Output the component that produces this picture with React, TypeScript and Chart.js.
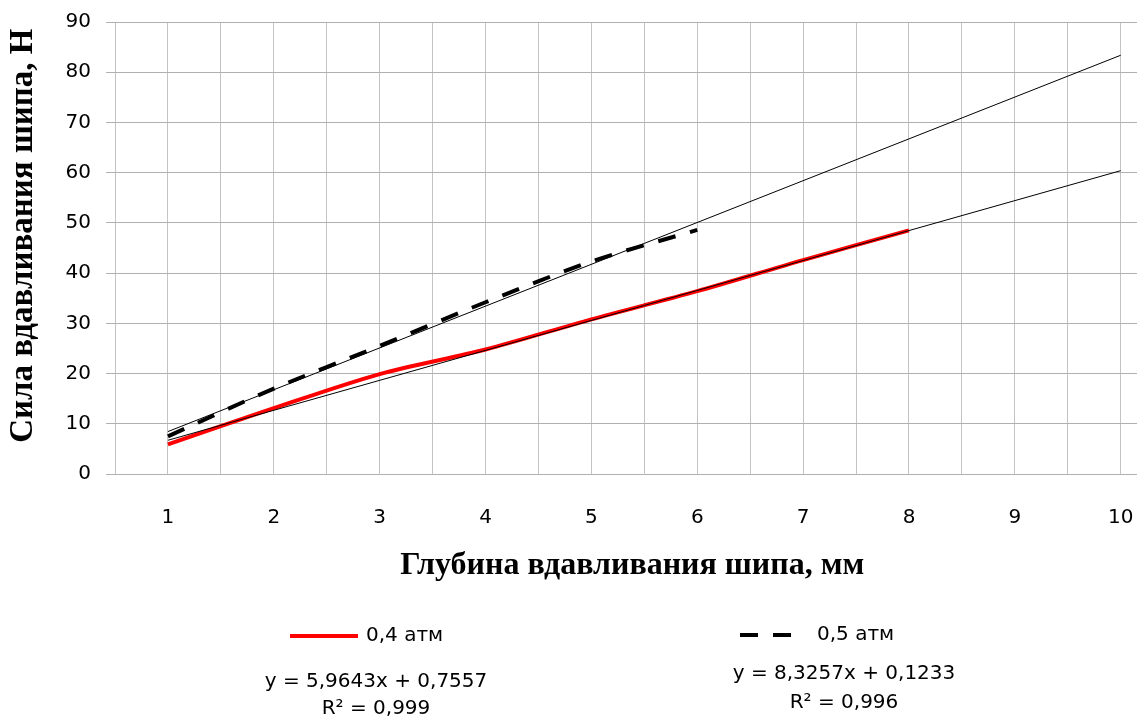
import React, { useEffect, useRef } from 'react';
import { Chart, registerables } from 'chart.js';

Chart.register(...registerables);

// ---- data ----
const depth04 = [1, 2, 3, 4, 5, 6, 7, 8];
const force04 = [5.9, 13.1, 19.9, 24.8, 30.8, 36.4, 42.6, 48.5];
const depth05 = [1, 2, 3, 4, 5, 6];
const force05 = [7.5, 17.0, 25.5, 34.2, 42.3, 48.6];
const seriesNames = ['0,4 атм', '0,5 атм'];
const trendSlopes = [5.9643, 8.3257];
const trendIntercepts = [0.7557, 0.1233];
const trendEquations = ['y = 5,9643x + 0,7557', 'y = 8,3257x + 0,1233'];
const trendR2 = ['R² = 0,999', 'R² = 0,996'];
const trendRange = [1, 10];
const xAxisTitle = 'Глубина вдавливания шипа, мм';
const yAxisTitle = 'Сила вдавливания шипа, Н';

// canvas is larger than the visible window: the reference plot is cropped on the right
const SHIFT_Y = 5;
const CANVAS_W = 1207;
const CANVAS_H = 750;
const PLOT_RIGHT = 1173.65;

const sansFont = "'DejaVu Sans'";
const serifFont = "'Liberation Serif'";

const legendPlugin = {
  id: 'bottomLegend',
  afterDraw(chart: any) {
    const ctx: CanvasRenderingContext2D = chart.ctx;
    const dsRed = chart.data.datasets[2];
    const dsBlack = chart.data.datasets[3];
    const items = [
      { ds: dsRed, x0: 290, x1: 358, y: 636, textX: 366, eqX: 376, eqY: 682, r2Y: 709, idx: 0 },
      { ds: dsBlack, x0: 740, x1: 797, y: 635, textX: 817, eqX: 844, eqY: 674, r2Y: 703, idx: 1 },
    ];
    ctx.save();
    ctx.translate(0, SHIFT_Y);
    for (const it of items) {
      ctx.beginPath();
      ctx.strokeStyle = it.ds.borderColor;
      ctx.lineWidth = it.ds.borderWidth;
      ctx.lineCap = 'butt';
      ctx.setLineDash(it.ds.borderDash || []);
      ctx.moveTo(it.x0, it.y);
      ctx.lineTo(it.x1, it.y);
      ctx.stroke();
      ctx.setLineDash([]);
      ctx.fillStyle = '#000';
      ctx.font = `20px ${sansFont}`;
      ctx.textBaseline = 'middle';
      ctx.textAlign = 'left';
      ctx.fillText(seriesNames[it.idx], it.textX, it.y);
      ctx.textAlign = 'center';
      ctx.fillText(trendEquations[it.idx], it.eqX, it.eqY);
      ctx.fillText(trendR2[it.idx], it.eqX, it.r2Y);
    }
    ctx.restore();
  },
};

export default function App() {
  const ref = useRef<HTMLCanvasElement | null>(null);

  useEffect(() => {
    if (!ref.current) return;
    const trend = (i: number) => trendRange.map((x) => ({ x, y: trendSlopes[i] * x + trendIntercepts[i] }));
    const chart = new Chart(ref.current, {
      type: 'line',
      data: {
        datasets: [
          {
            label: 'trend ' + seriesNames[0],
            data: trend(0),
            borderColor: '#000000',
            borderWidth: 1,
            pointRadius: 0,
            tension: 0,
            order: 0,
          },
          {
            label: 'trend ' + seriesNames[1],
            data: trend(1),
            borderColor: '#000000',
            borderWidth: 1,
            pointRadius: 0,
            tension: 0,
            order: 0,
          },
          {
            label: seriesNames[0],
            data: depth04.map((x, i) => ({ x, y: force04[i] })),
            borderColor: '#ff0000',
            borderWidth: 4,
            pointRadius: 0,
            tension: 0.3,
            order: 1,
          },
          {
            label: seriesNames[1],
            data: depth05.map((x, i) => ({ x, y: force05[i] })),
            borderColor: '#000000',
            borderWidth: 4,
            borderDash: [18, 15],
            borderCapStyle: 'butt',
            pointRadius: 0,
            tension: 0.3,
            order: 1,
          },
        ] as any,
      },
      options: {
        responsive: false,
        animation: false,
        devicePixelRatio: 1,
        layout: { padding: { left: 0, right: CANVAS_W - PLOT_RIGHT, top: 22 + SHIFT_Y, bottom: CANVAS_H - (474 + SHIFT_Y) - 120 } },
        plugins: {
          legend: { display: false },
          tooltip: { enabled: false },
        },
        scales: {
          x: {
            type: 'linear',
            min: 0.5,
            max: 10.5,
            ticks: {
              stepSize: 0.5,
              autoSkip: false,
              maxRotation: 0,
              padding: 32,
              color: '#000',
              font: { family: sansFont, size: 20 },
              callback: (v: any) => (Number.isInteger(Number(v)) ? String(v) : ''),
            },
            grid: { color: '#c4c4c4', lineWidth: 1, drawTicks: false },
            border: { display: false },
            title: {
              display: true,
              text: xAxisTitle + '   ',
              color: '#000',
              font: { family: serifFont, size: 32, weight: 'bold' },
              padding: { top: 0, bottom: 9 },
            },
            afterFit: (s: any) => {
              s.height = 120;
            },
          },
          y: {
            min: 0,
            max: 90,
            ticks: {
              stepSize: 10,
              padding: 15,
              color: '#000',
              font: { family: sansFont, size: 20 },
            },
            grid: { color: '#b0b0b0', lineWidth: 1, tickLength: 9 },
            border: { display: false },
            title: {
              display: true,
              text: '   ' + yAxisTitle,
              color: '#000',
              font: { family: serifFont, size: 33, weight: 'bold' },
              padding: { top: 4, bottom: 0 },
            },
            afterFit: (s: any) => {
              s.width = 115;
            },
          },
        },
      } as any,
      plugins: [legendPlugin],
    });
    return () => chart.destroy();
  }, []);

  return (
    <div style={{ position: 'absolute', left: 0, top: 0, width: 1137, height: 721, overflow: 'hidden', background: '#fff' }}>
      <canvas
        ref={ref}
        width={CANVAS_W}
        height={CANVAS_H}
        style={{ display: 'block', position: 'absolute', left: 0, top: -SHIFT_Y, width: CANVAS_W, height: CANVAS_H }}
      />
    </div>
  );
}
